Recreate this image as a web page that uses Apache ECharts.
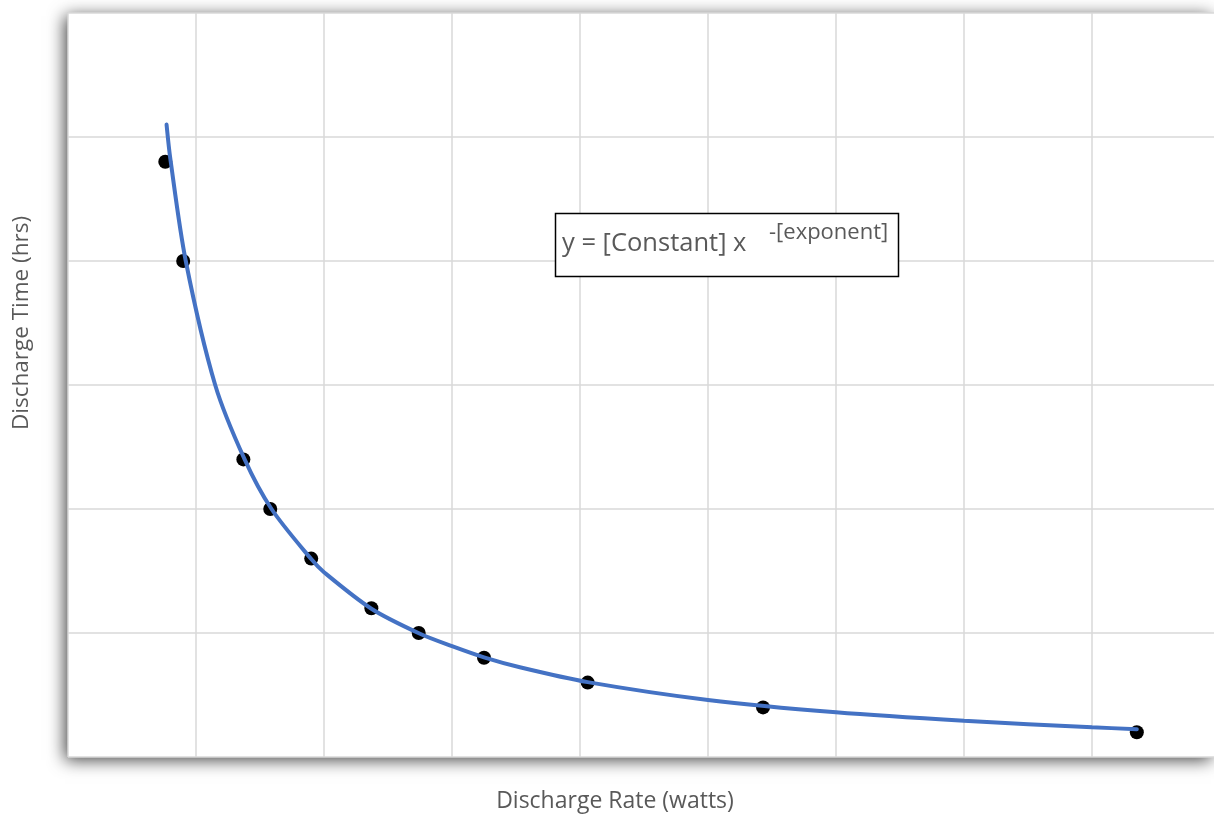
<!DOCTYPE html>
<html>
<head>
<meta charset="utf-8">
<script src="https://cdn.jsdelivr.net/npm/echarts@6/dist/echarts.min.js"></script>
<style>
html,body{margin:0;padding:0;background:#fff;}
#chart{width:1214px;height:815px;}
</style>
</head>
<body>
<div id="chart"></div>
<script>
// Measured data points: discharge rate (watts) vs discharge time (hrs)
const rateWatts = [7.6, 9.0, 13.7, 15.8, 19.0, 23.7, 27.4, 32.5, 40.6, 54.3, 83.5];
const timeHrs = [24, 20, 12, 10, 8, 6, 5, 4, 3, 2, 1];

// Power trendline
const trendX = [7.7, 8.0, 9.2, 11.5, 13.8, 15.9, 19.0, 20.0, 23.7, 27.5, 30.0, 32.5, 35.3, 40.6, 50.0, 60.0, 70.0, 80.0, 83.5];
const trendY = [25.5, 24.1, 20.0, 15.0, 12.0, 10.0, 7.98, 7.45, 5.98, 4.97, 4.47, 4.02, 3.62, 3.02, 2.30, 1.80, 1.46, 1.20, 1.12];

// Axis extents (the plot area runs past the right edge of the picture)
const xTicks = {min: 0, max: 89.53, interval: 10};
const yTicks = {min: 0, max: 30, interval: 5};

const xTitle = 'Discharge Rate (watts)';
const yTitle = 'Discharge Time (hrs)';
const eqMain = 'y = [Constant] x';
const eqSup = '-[exponent]';

const chart = echarts.init(document.getElementById('chart'), null, {renderer: 'canvas'});
const FONT = '"Open Sans", sans-serif';
const TXT = '#595959';

chart.setOption({
  animation: false,
  backgroundColor: '#ffffff',
  grid: {
    left: 68, top: 13, right: 0, height: 744,
    show: true, backgroundColor: '#ffffff', borderWidth: 0,
    shadowBlur: 16, shadowColor: 'rgba(0,0,0,0.75)', shadowOffsetX: -3, shadowOffsetY: 3
  },
  xAxis: {
    type: 'value', min: xTicks.min, max: xTicks.max, interval: xTicks.interval,
    axisLine: {show: false}, axisTick: {show: false}, axisLabel: {show: false},
    splitLine: {show: true, showMaxLine: false, lineStyle: {color: '#d9d9d9', width: 1.5}}
  },
  yAxis: {
    type: 'value', min: yTicks.min, max: yTicks.max, interval: yTicks.interval,
    axisLine: {show: false}, axisTick: {show: false}, axisLabel: {show: false},
    splitLine: {show: true, lineStyle: {color: '#d9d9d9', width: 1.5}}
  },
  series: [
    {
      type: 'scatter',
      data: rateWatts.map((x, i) => [x, timeHrs[i]]),
      symbol: 'circle', symbolSize: 14,
      itemStyle: {color: '#000000', opacity: 1},
      z: 2
    },
    {
      type: 'line',
      data: trendX.map((x, i) => [x, trendY[i]]),
      smooth: 0.3, showSymbol: false, symbol: 'none',
      lineStyle: {color: '#4472C4', width: 4, cap: 'round'},
      z: 3
    }
  ],
  graphic: [
    {
      type: 'text', x: 615, y: 801,
      style: {text: xTitle, font: '23px ' + FONT, fill: TXT, align: 'center', verticalAlign: 'middle'}
    },
    {
      type: 'text', x: 22, y: 323, rotation: Math.PI / 2,
      style: {text: yTitle, font: '22.5px ' + FONT, fill: TXT, align: 'center', verticalAlign: 'middle'}
    },
    {
      type: 'rect', z: 10,
      shape: {x: 555.5, y: 213.5, width: 343, height: 63},
      style: {fill: '#ffffff', stroke: '#000000', lineWidth: 1.5}
    },
    {
      type: 'text', z: 11, x: 562, y: 244,
      style: {text: eqMain, font: '25.5px ' + FONT, fill: TXT, align: 'left', verticalAlign: 'middle'}
    },
    {
      type: 'text', z: 11, x: 769, y: 233,
      style: {text: eqSup, font: '22px ' + FONT, fill: TXT, align: 'left', verticalAlign: 'middle'}
    }
  ]
});
</script>
</body>
</html>
